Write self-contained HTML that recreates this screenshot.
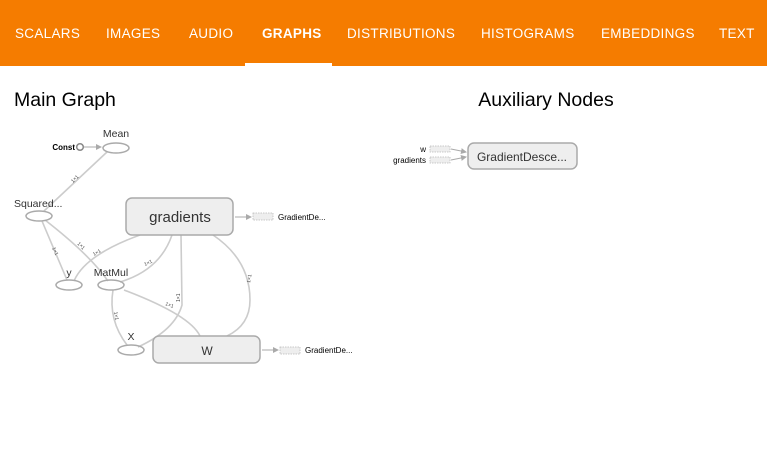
<!DOCTYPE html>
<html><head><style>
body{margin:0;width:767px;height:475px;background:#fff;overflow:hidden;font-family:"Liberation Sans",sans-serif}
.bar{position:absolute;left:0;top:0;width:767px;height:66px;background:#f57c00}
.tab{position:absolute;top:26px;color:#fff;font-size:13.5px;font-weight:normal;letter-spacing:0.3px}
.ul{position:absolute;left:245px;top:63px;width:87px;height:3px;background:#fff}
</style></head><body>
<div class="bar">
<div class="tab" style="left:15px">SCALARS</div>
<div class="tab" style="left:106px">IMAGES</div>
<div class="tab" style="left:189px">AUDIO</div>
<div class="tab" style="left:262px;font-weight:bold">GRAPHS</div>
<div class="tab" style="left:347px">DISTRIBUTIONS</div>
<div class="tab" style="left:481px">HISTOGRAMS</div>
<div class="tab" style="left:601px">EMBEDDINGS</div>
<div class="tab" style="left:719px">TEXT</div>
<div class="ul"></div>
</div>
<svg width="767" height="475" style="position:absolute;left:0;top:0" font-family="Liberation Sans, sans-serif">
<text x="14" y="106" font-size="19.5" fill="#000">Main Graph</text>
<text x="546" y="106" font-size="19.5" fill="#000" text-anchor="middle">Auxiliary Nodes</text>
<defs><marker id="a" markerWidth="6" markerHeight="6" refX="5" refY="3" orient="auto"><path d="M0,0L6,3L0,6z" fill="#aaa"/></marker></defs>
<g stroke="#ccc" stroke-width="1.6" fill="none">
<path d="M107,152 L44,211"/>
<path d="M42,221 L67,280"/>
<path d="M45,220 Q90,255 108,281"/>
<path d="M140,235 Q85,255 74,281"/>
<path d="M172,235 Q160,270 120,282"/>
<path d="M181,235 L182,305 Q175,330 138,347"/>
<path d="M213,235 Q250,260 250,300 Q250,325 227,336"/>
<path d="M124,290 Q190,315 200,336"/>
<path d="M113,290 Q108,320 127,345"/>
</g>
<g stroke="#aaa" stroke-width="1" fill="none">
<path d="M84,147 L101,147" marker-end="url(#a)"/>
<path d="M235,217 L251,217" marker-end="url(#a)"/>
<path d="M262,350 L278,350" marker-end="url(#a)"/>
<path d="M451,149 L466,152" marker-end="url(#a)"/>
<path d="M451,160 L466,157" marker-end="url(#a)"/>
</g>
<g font-size="5" fill="#444">
<text x="73" y="183" transform="rotate(-45 73 183)">1×1</text>
<text x="52" y="248" transform="rotate(65 52 248)">1×1</text>
<text x="77" y="244" transform="rotate(45 77 244)">1×1</text>
<text x="94" y="256" transform="rotate(-30 94 256)">1×1</text>
<text x="145" y="266" transform="rotate(-25 145 266)">1×1</text>
<text x="180" y="302" transform="rotate(-90 180 302)">1×1</text>
<text x="165" y="305" transform="rotate(20 165 305)">1×1</text>
<text x="114" y="312" transform="rotate(80 114 312)">1×1</text>
<text x="250" y="283" transform="rotate(-80 250 283)">1×1</text>
</g>
<g fill="none" stroke="#aaa" stroke-width="1.5">
<circle cx="80" cy="147" r="3.3" stroke="#888"/>
<ellipse cx="116" cy="148" rx="13" ry="5"/>
<ellipse cx="39" cy="216" rx="13" ry="5"/>
<ellipse cx="69" cy="285" rx="13" ry="5"/>
<ellipse cx="111" cy="285" rx="13" ry="5"/>
<ellipse cx="131" cy="350" rx="13" ry="5"/>
</g>
<rect x="126" y="198" width="107" height="37" rx="6" fill="#eee" stroke="#aaa" stroke-width="1.5"/>
<rect x="153" y="336" width="107" height="27" rx="6" fill="#eee" stroke="#aaa" stroke-width="1.5"/>
<rect x="468" y="143" width="109" height="26" rx="6" fill="#eee" stroke="#aaa" stroke-width="1.5"/>
<g fill="#eee" stroke="#bbb" stroke-dasharray="1.5,1" stroke-width="0.8">
<rect x="253" y="213" width="20" height="7"/>
<rect x="280" y="347" width="20" height="7"/>
<rect x="430" y="146" width="20" height="6"/>
<rect x="430" y="157" width="20" height="6"/>
</g>
<g fill="#333" font-size="10.5">
<text x="116" y="137" text-anchor="middle">Mean</text>
<text x="14" y="207">Squared...</text>
<text x="69" y="276" text-anchor="middle">y</text>
<text x="111" y="276" text-anchor="middle">MatMul</text>
<text x="131" y="340" text-anchor="middle">X</text>
</g>
<g fill="#000" font-size="8" font-weight="bold">
<text x="75" y="150" text-anchor="end">Const</text>
<text x="278" y="220" font-weight="normal">GradientDe...</text>
<text x="305" y="353" font-weight="normal">GradientDe...</text>
<text x="426" y="152" text-anchor="end" font-weight="normal">w</text>
<text x="426" y="163" text-anchor="end" font-weight="normal">gradients</text>
</g>
<text x="180" y="222" font-size="15" fill="#333" text-anchor="middle">gradients</text>
<text x="207" y="355" font-size="12" fill="#333" text-anchor="middle">W</text>
<text x="522" y="161" font-size="12" fill="#333" text-anchor="middle">GradientDesce...</text>
</svg>
</body></html>
